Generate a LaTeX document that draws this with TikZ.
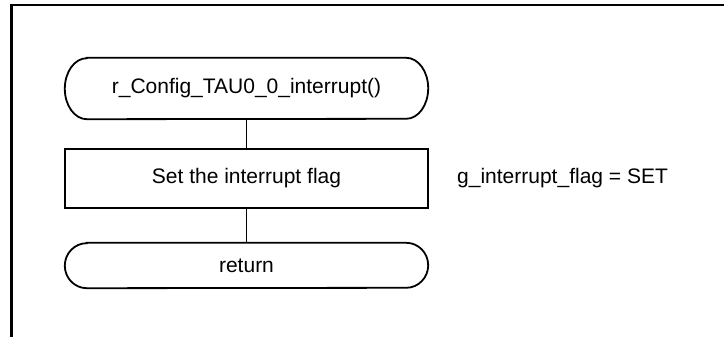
\documentclass[tikz,border=0pt]{standalone}
\usepackage{fontspec}
\setmainfont{Liberation Sans}
\begin{document}
\begin{tikzpicture}[x=1pt,y=1pt,
  every node/.style={font=\fontsize{21}{25}\selectfont, inner sep=0pt},
  shapeline/.style={line width=1.8pt, black},
  frameline/.style={line width=2.2pt, black},
  termbox/.style={minimum width=363pt},
  procbox/.style={draw, shapeline, minimum width=363pt, minimum height=59pt},
  link/.style={line width=1.5pt, black}]
\useasboundingbox (0,0) rectangle (724,-337);

% sheet frame
\draw[frameline] (724,-5) -- (11.5,-5) -- (11.5,-337);

% flow nodes
\node[termbox, minimum height=61pt] (start) at (246.5,-88.5) {r\_Config\_TAU0\_0\_interrupt()};
\node[procbox] (setflag) at (246.5,-178.5) {Set the interrupt flag};
\node[termbox, minimum height=45pt] (ret) at (246.5,-265.5) {return};
\node[anchor=west] (note) at (457,-178.5) {g\_interrupt\_flag = SET};

% terminator outlines (elliptic ends)
\foreach \n/\ry in {start/30.5, ret/22.5}
  \draw[shapeline] ([xshift=22pt]\n.north west) -- ([xshift=-22pt]\n.north east)
    arc[start angle=90, end angle=-90, x radius=22pt, y radius=\ry pt]
    -- ([xshift=22pt]\n.south west)
    arc[start angle=270, end angle=90, x radius=22pt, y radius=\ry pt] -- cycle;

% connectors
\draw[link] (start.south) -- (setflag.north);
\draw[link] (setflag.south) -- (ret.north);
\end{tikzpicture}
\end{document}
